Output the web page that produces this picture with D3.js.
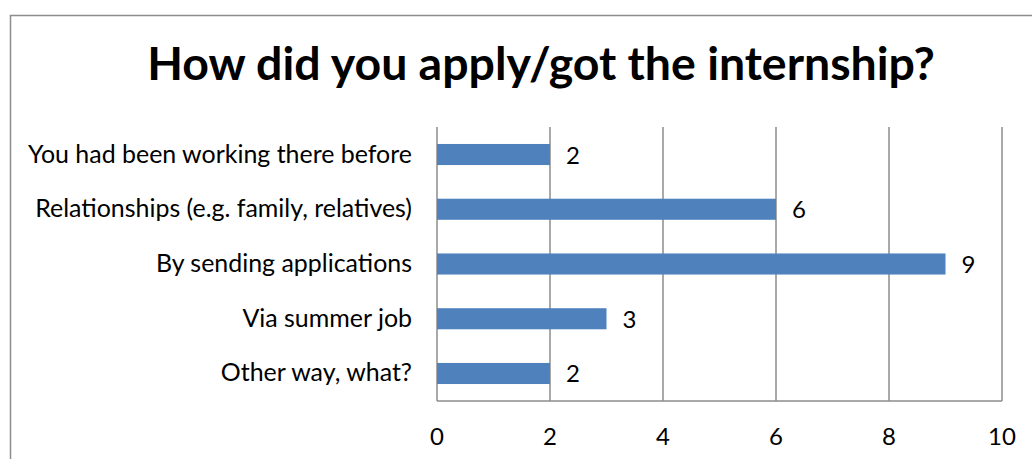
<!DOCTYPE html>
<html>
<head>
<meta charset="utf-8">
<script src="https://cdn.jsdelivr.net/npm/d3@7"></script>
<style>
  html, body { margin: 0; padding: 0; background: #fff; }
  svg { display: block; }
</style>
</head>
<body>
<div id="chart"></div>
<script>
const WIDTH = 1032;
const HEIGHT = 459;

// data
const categories = [
  'You had been working there before',
  'Relationships (e.g. family, relatives)',
  'By sending applications',
  'Via summer job',
  'Other way, what?'
];
const counts = [2, 6, 9, 3, 2];
const xTicks = [0, 2, 4, 6, 8, 10];
const title = 'How did you apply/got the internship?';

const FONT = 'Lato, "Open Sans", "DejaVu Sans", sans-serif';
const plot = { left: 437, right: 1002, top: 127, bottom: 401 };

const svg = d3.select('#chart')
  .append('svg')
  .attr('width', WIDTH)
  .attr('height', HEIGHT);

// outer chart border (runs past the right and bottom edges)
svg.append('rect')
  .attr('x', 10.5)
  .attr('y', 15.5)
  .attr('width', 1040)
  .attr('height', 480)
  .attr('fill', '#fff')
  .attr('stroke', '#8c8c8c')
  .attr('stroke-width', 1.5);

const x = d3.scaleLinear().domain([0, 10]).range([plot.left, plot.right]);
const y = d3.scaleBand()
  .domain(categories)
  .range([plot.top, plot.bottom])
  .paddingInner(0.615)
  .paddingOuter(0.31);

// vertical gridlines
svg.append('g')
  .selectAll('line')
  .data(xTicks)
  .enter()
  .append('line')
  .attr('x1', d => x(d))
  .attr('x2', d => x(d))
  .attr('y1', plot.top)
  .attr('y2', plot.bottom)
  .attr('stroke', '#8c8c8c')
  .attr('stroke-width', 1.5);

// bars
svg.append('g')
  .selectAll('rect')
  .data(categories)
  .enter()
  .append('rect')
  .attr('x', x(0))
  .attr('y', d => y(d))
  .attr('width', (d, i) => x(counts[i]) - x(0))
  .attr('height', y.bandwidth())
  .attr('fill', '#4f81bd');

// bottom axis line
svg.append('line')
  .attr('x1', plot.left)
  .attr('x2', plot.right)
  .attr('y1', plot.bottom)
  .attr('y2', plot.bottom)
  .attr('stroke', '#8c8c8c')
  .attr('stroke-width', 1.5);

// x tick labels
svg.append('g')
  .selectAll('text')
  .data(xTicks)
  .enter()
  .append('text')
  .attr('x', d => x(d))
  .attr('y', 445)
  .attr('text-anchor', 'middle')
  .style('font-family', FONT)
  .style('font-size', '24px')
  .attr('fill', '#000')
  .text(d => d);

// category labels
const catLabels = svg.append('g')
  .selectAll('text')
  .data(categories)
  .enter()
  .append('text')
  .attr('x', 412)
  .attr('y', d => y(d) + y.bandwidth() / 2 + 8)
  .attr('text-anchor', 'end')
  .style('font-family', FONT)
  .style('font-size', '20px')
  .attr('fill', '#000')
  .text(d => d);

// fit label size so the longest one spans like the reference (~384px)
const longest = d3.max(catLabels.nodes(), n => n.getComputedTextLength());
catLabels.style('font-size', `${20 * 384 / longest}px`);

// value labels
svg.append('g')
  .selectAll('text')
  .data(categories)
  .enter()
  .append('text')
  .attr('x', (d, i) => x(counts[i]) + 16)
  .attr('y', d => y(d) + y.bandwidth() / 2 + 9)
  .style('font-family', FONT)
  .style('font-size', '24px')
  .attr('fill', '#000')
  .text((d, i) => counts[i]);

// title
const t = svg.append('text')
  .attr('x', 541)
  .attr('y', 80)
  .attr('text-anchor', 'middle')
  .style('font-family', FONT)
  .style('font-weight', 'bold')
  .style('font-size', '40px')
  .attr('fill', '#000')
  .text(title);
const tw = t.node().getComputedTextLength();
t.style('font-size', `${40 * 788 / tw}px`);
</script>
</body>
</html>
